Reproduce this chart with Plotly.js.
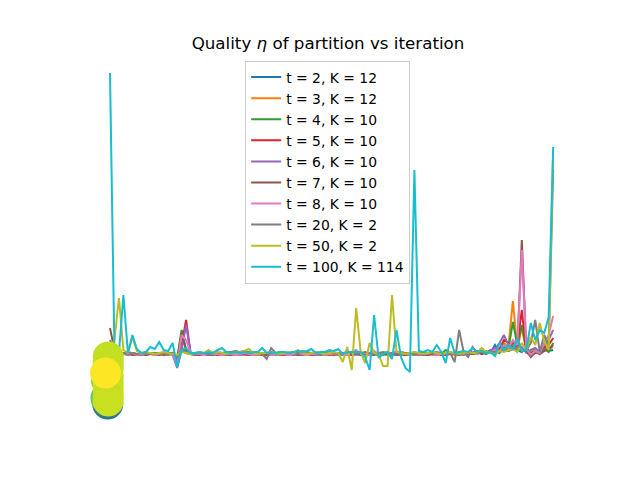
<!DOCTYPE html>
<html>
<head>
<meta charset="utf-8">
<script src="https://cdn.plot.ly/plotly-3.0.1.min.js"></script>
<style>
  body { margin: 0; background: #fff; }
  #chart { width: 640px; height: 480px; }
</style>
</head>
<body>
<div id="chart"></div>
<script>
// iterations 0..99
const iterations = [];
for (let i = 0; i < 100; i++) iterations.push(i);

const seriesNames = [
  "t = 2, K = 12",
  "t = 3, K = 12",
  "t = 4, K = 10",
  "t = 5, K = 10",
  "t = 6, K = 10",
  "t = 7, K = 10",
  "t = 8, K = 10",
  "t = 20, K = 2",
  "t = 50, K = 2",
  "t = 100, K = 114",
];

const seriesColors = [
  "#1f77b4", "#ff7f0e", "#2ca02c", "#d62728", "#9467bd",
  "#8c564b", "#e377c2", "#7f7f7f", "#bcbd22", "#17becf",
];

// quality eta per iteration
const etaT2 = [
  0.08, 0.03, 0.02, 0.01, 0.02, 0.01, 0.00, 0.01, 0.02, 0.01,
  0.01, 0.00, 0.01, 0.02, 0.00, -0.02, 0.05, 0.02, 0.01, 0.00,
  0.01, 0.01, 0.00, 0.01, 0.02, 0.01, 0.00, 0.01, 0.01, 0.00,
  0.01, 0.02, 0.01, 0.00, 0.01, 0.00, 0.01, 0.01, 0.02, 0.00,
  0.01, 0.00, 0.01, 0.02, 0.01, 0.00, 0.01, 0.01, 0.00, 0.01,
  0.02, 0.01, 0.00, 0.01, 0.01, 0.02, 0.00, 0.01, 0.01, 0.00,
  0.01, 0.02, 0.01, 0.00, 0.01, 0.01, 0.00, 0.01, 0.02, 0.01,
  0.00, 0.01, 0.01, 0.02, 0.00, 0.01, 0.02, 0.01, 0.00, 0.02,
  0.01, 0.01, 0.03, 0.02, 0.04, 0.02, 0.10, 0.03, 0.06, 0.04,
  0.08, 0.05, 0.03, 0.07, 0.02, 0.05, 0.03, 0.08, 0.04, 0.05,
];
const etaT3 = [
  0.10, 0.04, 0.02, 0.01, 0.03, 0.02, 0.01, 0.00, 0.01, 0.02,
  0.01, 0.01, 0.00, 0.02, 0.01, -0.03, 0.08, 0.03, 0.01, 0.01,
  0.00, 0.01, 0.02, 0.01, 0.00, 0.01, 0.01, 0.02, 0.00, 0.01,
  0.00, 0.01, 0.01, 0.00, 0.02, 0.01, 0.00, 0.01, 0.01, 0.02,
  0.00, 0.01, 0.01, 0.00, 0.01, 0.02, 0.00, 0.01, 0.01, 0.00,
  0.01, 0.01, 0.02, 0.00, 0.01, 0.02, 0.01, 0.00, 0.02, 0.01,
  0.00, 0.01, 0.01, 0.02, 0.01, 0.00, 0.01, 0.02, 0.01, 0.00,
  0.01, 0.02, 0.00, 0.01, 0.01, 0.02, 0.01, 0.00, 0.01, 0.03,
  0.00, 0.02, 0.01, 0.03, 0.02, 0.04, 0.03, 0.05, 0.12, 0.08,
  0.54, 0.06, 0.28, 0.04, 0.02, 0.06, 0.03, 0.05, 0.07, 0.08,
];
const etaT4 = [
  0.09, 0.03, 0.02, 0.02, 0.01, 0.02, 0.01, 0.01, 0.00, 0.01,
  0.02, 0.01, 0.01, 0.00, 0.02, -0.03, 0.25, 0.05, 0.01, 0.00,
  0.01, 0.02, 0.01, 0.00, 0.01, 0.01, 0.02, 0.00, 0.01, 0.01,
  0.02, 0.00, 0.01, 0.01, 0.00, 0.01, 0.02, 0.00, 0.01, 0.01,
  0.02, 0.01, 0.00, 0.01, 0.01, 0.02, 0.01, 0.00, 0.01, 0.02,
  0.00, 0.01, 0.01, 0.02, 0.00, 0.01, 0.02, 0.01, 0.00, 0.01,
  0.02, 0.00, 0.01, 0.01, 0.02, 0.00, 0.01, 0.01, 0.00, 0.02,
  0.01, 0.00, 0.02, 0.01, 0.01, 0.05, 0.02, 0.01, 0.00, 0.02,
  0.03, 0.01, 0.02, 0.04, 0.01, 0.03, 0.05, 0.02, 0.10, 0.06,
  0.33, 0.10, 0.30, 0.05, 0.02, 0.04, 0.01, 0.06, 0.03, 0.12,
];
const etaT5 = [
  0.07, 0.02, 0.01, 0.02, 0.01, 0.00, 0.01, 0.02, 0.00, 0.01,
  0.01, 0.02, 0.00, 0.01, 0.02, -0.05, 0.10, 0.35, 0.02, 0.01,
  0.00, 0.01, 0.01, 0.02, 0.00, 0.01, 0.01, 0.00, 0.02, 0.01,
  0.01, 0.00, 0.02, 0.01, 0.01, 0.00, 0.01, 0.02, 0.01, 0.00,
  0.01, 0.01, 0.02, 0.00, 0.01, 0.01, 0.00, 0.02, 0.01, 0.01,
  0.00, 0.02, 0.01, 0.01, 0.00, 0.02, 0.01, 0.02, 0.00, 0.01,
  0.01, 0.02, 0.00, 0.01, 0.03, 0.01, 0.00, 0.02, 0.01, 0.01,
  0.02, 0.00, 0.01, 0.02, 0.01, 0.00, 0.01, 0.03, 0.01, 0.02,
  0.01, 0.02, 0.04, 0.01, 0.03, 0.02, 0.04, 0.06, 0.15, 0.12,
  0.08, 0.10, 0.45, 0.03, -0.01, 0.02, 0.04, 0.08, 0.10, 0.17,
];
const etaT6 = [
  0.06, 0.02, 0.02, 0.01, 0.00, 0.01, 0.01, 0.00, 0.02, 0.01,
  0.00, 0.01, 0.01, 0.02, 0.00, -0.13, 0.05, 0.30, 0.02, 0.00,
  0.01, 0.01, 0.00, 0.02, 0.01, 0.00, 0.01, 0.01, 0.02, 0.00,
  0.01, 0.02, 0.00, 0.01, 0.01, 0.02, 0.00, 0.01, 0.01, 0.00,
  0.02, 0.01, 0.01, 0.00, 0.02, 0.01, 0.00, 0.01, 0.02, 0.01,
  0.01, 0.00, 0.02, 0.01, 0.01, 0.00, 0.02, 0.01, 0.01, 0.02,
  0.00, 0.01, 0.02, 0.01, 0.00, 0.01, 0.02, 0.01, 0.01, 0.00,
  0.01, 0.02, 0.01, 0.00, 0.02, 0.01, 0.03, 0.01, 0.02, 0.01,
  0.02, 0.03, 0.01, 0.04, 0.02, 0.05, 0.06, 0.12, 0.20, 0.10,
  0.06, 0.04, 0.08, 0.02, 0.05, 0.07, 0.03, 0.10, 0.15, 0.25,
];
const etaT7 = [
  0.27, 0.05, 0.02, 0.01, 0.02, 0.01, 0.00, 0.01, 0.02, 0.01,
  0.01, 0.00, 0.02, 0.01, 0.01, -0.06, 0.22, 0.05, 0.01, 0.02,
  0.00, 0.01, 0.01, 0.00, 0.02, 0.01, 0.01, 0.00, 0.01, 0.02,
  0.01, 0.00, 0.01, 0.02, 0.00, 0.01, 0.01, 0.02, 0.00, 0.01,
  0.01, 0.02, 0.00, 0.01, 0.01, 0.00, 0.02, 0.01, 0.01, 0.00,
  0.02, 0.01, 0.00, 0.01, 0.02, 0.01, 0.00, 0.01, 0.01, 0.02,
  0.00, 0.01, 0.01, 0.02, 0.00, 0.01, 0.01, 0.00, 0.02, 0.01,
  0.01, 0.00, 0.02, 0.01, 0.00, 0.01, 0.02, 0.01, 0.01, 0.00,
  0.02, 0.01, 0.03, 0.01, 0.02, 0.04, 0.02, 0.05, 0.08, 0.06,
  0.12, 0.08, 1.15, 0.05, -0.02, 0.03, 0.01, 0.04, 0.06, 0.10,
];
const etaT8 = [
  0.12, 0.04, 0.02, 0.01, 0.01, 0.02, 0.00, 0.01, 0.01, 0.02,
  0.00, 0.01, 0.02, 0.01, 0.00, -0.10, 0.20, 0.15, 0.02, 0.01,
  0.01, 0.00, 0.02, 0.01, 0.01, 0.00, 0.02, 0.01, 0.00, 0.01,
  0.02, 0.01, 0.00, 0.01, 0.01, 0.02, 0.00, 0.01, 0.02, 0.01,
  0.00, 0.01, 0.02, 0.01, 0.00, 0.01, 0.01, 0.02, 0.00, 0.01,
  0.01, 0.02, 0.00, 0.01, 0.03, 0.05, 0.01, 0.02, 0.00, 0.04,
  0.01, 0.02, 0.03, 0.01, 0.04, 0.01, 0.02, 0.00, 0.03, 0.01,
  0.02, 0.01, 0.03, 0.00, 0.02, 0.01, 0.02, 0.01, 0.03, 0.01,
  0.02, 0.03, 0.01, 0.04, 0.02, 0.03, 0.05, 0.04, 0.10, 0.07,
  0.15, 0.10, 1.05, 0.06, 0.00, 0.04, 0.02, 0.12, 0.20, 0.39,
];
const etaT20 = [
  0.15, 0.04, 0.02, 0.02, 0.01, 0.02, 0.01, 0.02, 0.01, 0.02,
  0.01, 0.02, 0.02, 0.01, 0.02, -0.02, 0.06, 0.03, 0.02, 0.01,
  0.02, 0.02, 0.01, 0.02, 0.03, 0.02, 0.03, 0.03, 0.04, 0.03,
  0.04, 0.03, 0.02, 0.02, 0.01, -0.04, 0.07, 0.02, 0.03, 0.02,
  0.02, 0.03, 0.02, 0.04, 0.03, 0.02, 0.03, 0.02, 0.02, 0.03,
  0.02, 0.01, 0.02, 0.03, 0.02, 0.01, 0.02, 0.03, 0.02, 0.01,
  0.02, 0.03, 0.02, 0.02, 0.01, 0.03, 0.02, 0.02, 0.01, 0.02,
  0.03, 0.02, 0.02, 0.03, 0.02, 0.01, 0.02, -0.07, 0.25, 0.03,
  -0.02, 0.08, 0.02, 0.03, 0.02, 0.04, 0.02, 0.03, 0.05, 0.04,
  0.06, 0.08, 0.04, 0.05, 0.12, 0.35, 0.03, 0.20, 0.10, 1.85,
];
const etaT50 = [
  0.08, 0.15, 0.57, 0.05, 0.02, 0.18, 0.04, 0.02, 0.03, 0.02,
  0.01, 0.02, 0.03, 0.02, 0.01, 0.00, 0.03, 0.02, 0.01, 0.02,
  0.03, 0.02, 0.05, 0.02, 0.03, 0.02, 0.01, 0.02, 0.02, 0.03,
  0.04, 0.06, 0.02, 0.01, 0.02, 0.02, 0.03, 0.02, 0.01, 0.02,
  0.03, 0.02, 0.05, 0.02, 0.01, 0.02, 0.03, 0.02, 0.01, 0.02,
  0.03, 0.02, -0.07, 0.08, -0.15, 0.47, 0.03, -0.08, 0.12, 0.02,
  0.01, -0.11, -0.11, 0.60, 0.03, 0.02, 0.01, 0.02, 0.03, 0.02,
  0.01, 0.02, 0.03, 0.02, 0.01, 0.02, 0.03, 0.02, 0.01, 0.02,
  0.03, 0.02, 0.02, 0.07, 0.03, 0.02, 0.01, 0.04, 0.03, 0.05,
  0.06, 0.03, 0.12, 0.05, 0.18, 0.10, 0.32, 0.14, 0.05, 2.05,
];
const etaT100 = [
  2.82, 0.03, 0.02, 0.60, 0.02, 0.20, 0.06, 0.02, 0.03, 0.08,
  0.06, 0.13, 0.05, 0.04, 0.12, -0.12, 0.05, 0.07, 0.02, 0.02,
  0.03, 0.02, 0.03, 0.02, 0.05, 0.07, 0.03, 0.02, 0.03, 0.02,
  0.03, 0.02, 0.03, 0.03, 0.07, 0.02, 0.03, 0.02, 0.03, 0.03,
  0.02, 0.03, 0.04, 0.03, 0.04, 0.06, 0.02, 0.03, 0.03, 0.05,
  0.04, 0.06, 0.01, 0.03, 0.03, 0.03, 0.03, -0.02, -0.15, 0.40,
  -0.03, 0.01, 0.03, -0.04, 0.25, -0.02, -0.13, -0.17, 1.85, 0.04,
  0.03, 0.05, 0.03, 0.10, 0.03, -0.08, 0.17, 0.02, 0.03, 0.04,
  0.03, 0.07, 0.03, 0.04, 0.02, 0.03, -0.01, 0.12, 0.05, 0.10,
  0.06, 0.16, 0.04, 0.05, 0.32, 0.15, 0.25, 0.22, 0.38, 2.08,
];

const seriesValues = [etaT2, etaT3, etaT4, etaT5, etaT6, etaT7, etaT8, etaT20, etaT50, etaT100];

// initial partition markers drawn at the start
const startX = [-0.5, -0.9, -0.8, -0.4, -0.4, -0.4, -0.4, -0.4, -0.4, -0.4, -0.4, -1.0];
const startY = [-0.49, -0.43, -0.25, -0.02, -0.08, -0.13, -0.22, -0.29, -0.35, -0.41, -0.46, -0.18];
const startColors = [
  "#2a788e", "#5ec962", "#7ad151", "#c2df23", "#c2df23", "#c2df23",
  "#c8e020", "#c2df23", "#c8e020", "#c2df23", "#c8e020", "#fde725",
];

const font = "DejaVu Sans, Verdana, sans-serif";

var data = seriesNames.map((name, k) => ({
  name: name,
  x: iterations,
  y: seriesValues[k],
  mode: "lines",
  type: "scatter",
  legendgroup: "g" + k,
  line: { color: seriesColors[k], width: 2 },
}));

data.push({
  x: startX,
  y: startY,
  mode: "markers",
  type: "scatter",
  showlegend: false,
  marker: { color: startColors, size: 31, line: { width: 0 }, opacity: 1 },
});

var hidden = {
  showgrid: false,
  zeroline: false,
  showline: false,
  showticklabels: false,
  ticks: "",
};

var layout = {
  width: 640,
  height: 480,
  margin: { l: 80, r: 64, t: 58, b: 53 },
  paper_bgcolor: "#ffffff",
  plot_bgcolor: "#ffffff",
  font: { family: font, color: "#000000" },
  title: {
    text: "Quality <i>η</i> of partition vs iteration",
    font: { family: font, size: 16.7, color: "#000000" },
    x: 0.5125,
    xanchor: "center",
    yref: "container",
    y: 1 - 43 / 480,
    yanchor: "middle",
  },
  xaxis: Object.assign({ range: [-6.7, 104.1] }, hidden),
  yaxis: Object.assign({ range: [-0.72, 2.97] }, hidden),
  showlegend: true,
  legend: {
    x: 0.333,
    xanchor: "left",
    y: 0.993,
    yanchor: "top",
    bgcolor: "rgba(255,255,255,0.8)",
    bordercolor: "#cccccc",
    borderwidth: 1,
    tracegroupgap: 0,
    font: { family: font, size: 13.9, color: "#000000" },
  },
};

Plotly.newPlot("chart", data, layout, { displayModeBar: false, staticPlot: true });
</script>
</body>
</html>
